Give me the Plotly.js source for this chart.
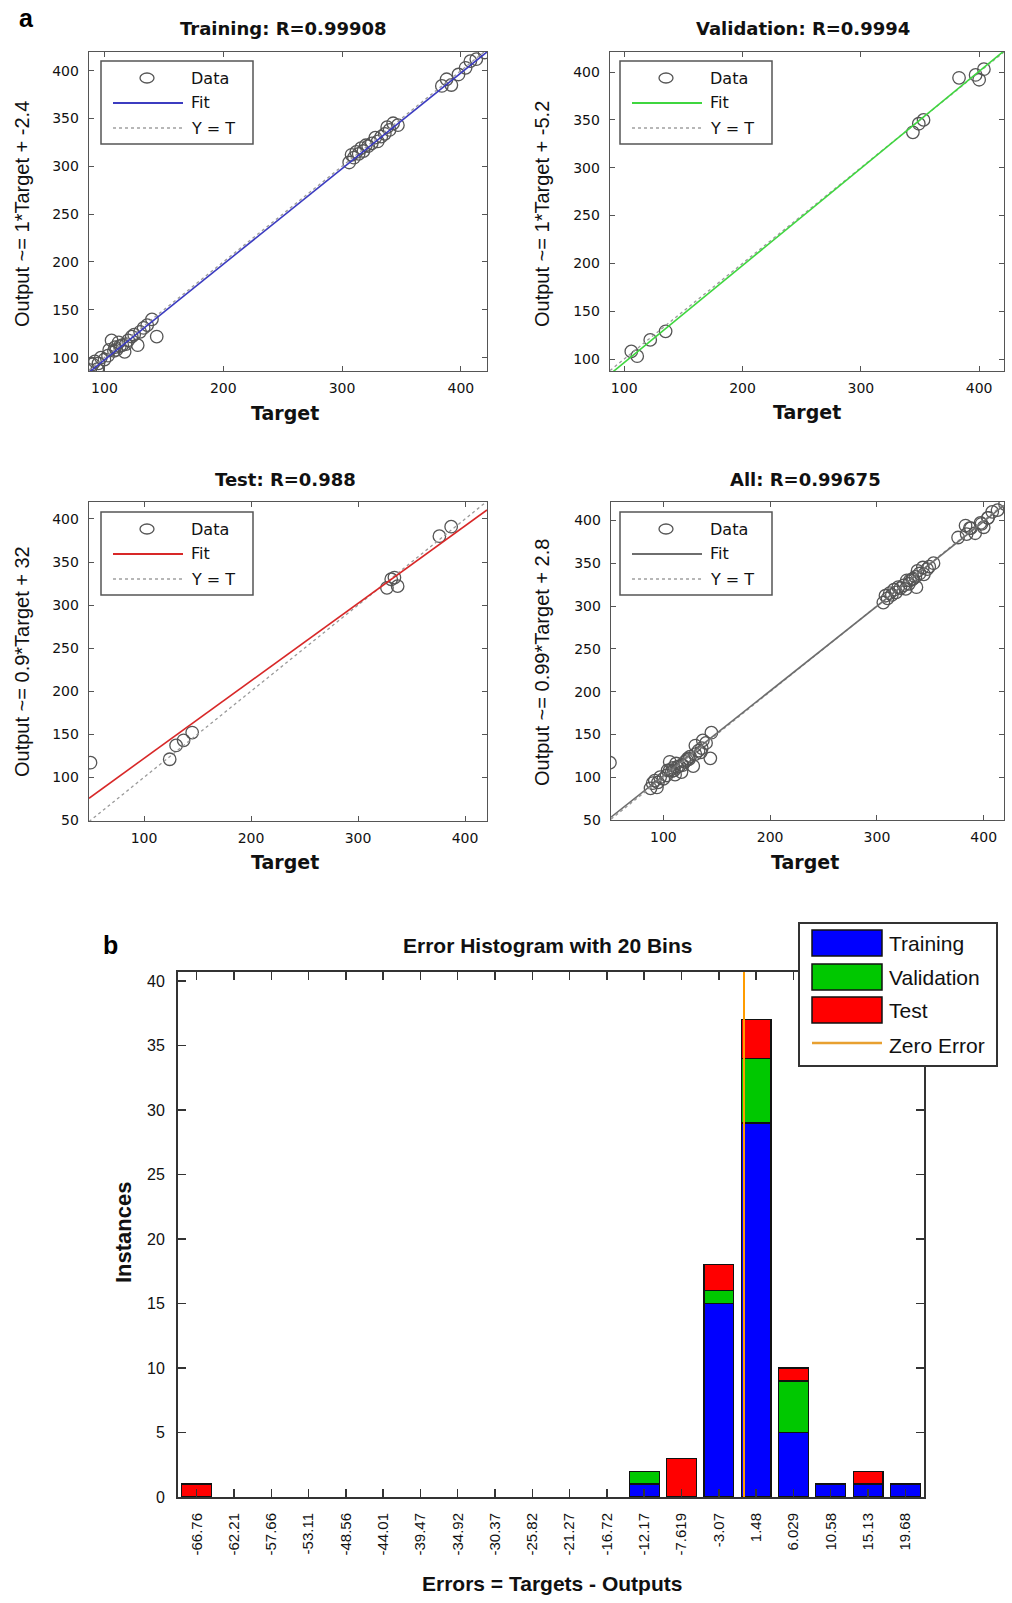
<!DOCTYPE html>
<html><head><meta charset="utf-8">
<script src="https://cdn.plot.ly/plotly-3.0.1.min.js"></script>
<style>html,body{margin:0;padding:0;background:#fff}#chart{width:1012px;height:1603px}</style>
</head><body><div id="chart"></div>
<script>
// ---------- data ----------
const trainTarget = [88,90,92,94,95,97,100,103,104,106,108,109,110,112,113,115,117,118,120,123,125,128,130,133,136,140,144,
  306,308,310,312,314,316,318,320,322,325,328,330,333,336,338,340,343,347,
  384,388,392,398,404,408,413,420];
const trainOutput = [87,93,96,88,94,100,98,102,108,118,107,111,108,116,112,113,106,114,118,122,124,113,127,131,134,140,122,
  304,312,309,315,313,319,316,322,321,324,330,326,331,334,341,338,345,343,
  384,391,385,396,403,410,412,419];
const valTarget = [106,111,122,135,344,349,353,383,397,400,404];
const valOutput = [108,103,120,129,337,346,350,394,397,392,403];
const testTarget = [50,124,130,137,145,327,331,334,337,376,387];
const testOutput = [117,121,137,143,152,320,330,332,322,380,391];

const panelTitles = ['Training: R=0.99908','Validation: R=0.9994','Test: R=0.988','All: R=0.99675'];
const fitLabels = ['Output ~= 1*Target + -2.4','Output ~= 1*Target + -5.2','Output ~= 0.9*Target + 32','Output ~= 0.99*Target + 2.8'];
const fitSlope = [1.0, 1.015, 0.9, 0.99];
const fitIntercept = [-2.4, -5.2, 32, 2.8];

const binLabels = ['-66.76','-62.21','-57.66','-53.11','-48.56','-44.01','-39.47','-34.92','-30.37','-25.82','-21.27','-16.72','-12.17','-7.619','-3.07','1.48','6.029','10.58','15.13','19.68'];
const trainCounts = [0,0,0,0,0,0,0,0,0,0,0,0,1,0,15,29,5,1,1,1];
const valCounts   = [0,0,0,0,0,0,0,0,0,0,0,0,1,0,1,5,4,0,0,0];
const testCounts  = [1,0,0,0,0,0,0,0,0,0,0,0,0,3,2,3,1,0,1,0];
const seriesNames = ['Training','Validation','Test'];

// ---------- styling ----------
const W = 1012, H = 1603;
const X = v => v / W, Y = v => 1 - v / H;
const fitColors = ['#3c3cc0','#3fd63f','#d82828','#6e6e6e'];
const histColors = ['#0000ff','#00c800','#ff0000'];
const zeroColor = '#ff9c00';
const SF = 'DejaVu Sans', AF = 'Liberation Sans';

const allTarget = trainTarget.concat(valTarget, testTarget);
const allOutput = trainOutput.concat(valOutput, testOutput);
const sets = [[trainTarget,trainOutput],[valTarget,valOutput],[testTarget,testOutput],[allTarget,allOutput]];

const panels = [
  {box:[89,487,52,371],  xr:[87,422], yr:[86,419.5], title:[283,28], xt:[285,413], yt:[22,214], leg:[101,61]},
  {box:[610,1004,52,371],xr:[88,421], yr:[87.5,421], title:[803,28], xt:[807,412], yt:[542,214], leg:[620,61]},
  {box:[89,487,502,821], xr:[48.6,420.5], yr:[49.3,419.7], title:[285,479], xt:[285,862], yt:[22,662], leg:[101,512]},
  {box:[611,1004,502,820],xr:[51,419], yr:[50,421.5], title:[805,479], xt:[805,862], yt:[542,663], leg:[620,512]}
];

const traces = [];
const layout = {
  width: W, height: H, autosize: false,
  margin: {l:0, r:0, t:0, b:0},
  paper_bgcolor: '#fff', plot_bgcolor: '#fff',
  showlegend: false, barmode: 'stack', bargap: 0.2,
  shapes: [], annotations: []
};

function axisBase(extra) {
  return Object.assign({
    showline: true, linecolor: '#555', linewidth: 1.3, mirror: 'ticks',
    ticks: 'inside', ticklen: 5, tickwidth: 1, tickcolor: '#555',
    showgrid: false, zeroline: false, fixedrange: true,
    tickfont: {family: SF, size: 14, color: '#111'}
  }, extra);
}

panels.forEach((p, i) => {
  const n = i + 1;
  const xa = 'x' + (n === 1 ? '' : n), ya = 'y' + (n === 1 ? '' : n);
  layout['xaxis' + (n === 1 ? '' : n)] = axisBase({
    domain: [X(p.box[0]), X(p.box[1])], range: p.xr, anchor: ya,
    tick0: 0, dtick: 100, ticklabelstandoff: 4
  });
  layout['yaxis' + (n === 1 ? '' : n)] = axisBase({
    domain: [Y(p.box[3]), Y(p.box[2])], range: p.yr, anchor: xa,
    tick0: 0, dtick: 50, ticklabelstandoff: 6
  });
  const [t, o] = sets[i];
  traces.push({type:'scatter', mode:'markers', x:t, y:o, xaxis:xa, yaxis:ya,
    marker:{symbol:'circle-open', size:12.5, color:'#555', line:{width:1.3}}, hoverinfo:'skip'});
  const xs = [p.xr[0], p.xr[1]];
  traces.push({type:'scatter', mode:'lines', x:xs, y:xs, xaxis:xa, yaxis:ya,
    line:{color:'#9a9a9a', width:1.3, dash:'dot'}, hoverinfo:'skip'});
  traces.push({type:'scatter', mode:'lines', x:xs, y:xs.map(v => fitSlope[i]*v + fitIntercept[i]), xaxis:xa, yaxis:ya,
    line:{color:fitColors[i], width:1.6}, hoverinfo:'skip'});

  // titles
  layout.annotations.push({xref:'paper', yref:'paper', x:X(p.title[0]), y:Y(p.title[1]), xanchor:'center', yanchor:'middle',
    text:'<b>' + panelTitles[i] + '</b>', showarrow:false, font:{family:SF, size:18, color:'#111'}});
  layout.annotations.push({xref:'paper', yref:'paper', x:X(p.xt[0]), y:Y(p.xt[1]), xanchor:'center', yanchor:'middle',
    text:'<b>Target</b>', showarrow:false, font:{family:SF, size:19, color:'#111'}});
  layout.annotations.push({xref:'paper', yref:'paper', x:X(p.yt[0]), y:Y(p.yt[1]), xanchor:'center', yanchor:'middle',
    text:fitLabels[i], textangle:-90, showarrow:false, font:{family:AF, size:20, color:'#111'}});

  // legend box
  const [lx, ly] = p.leg;
  layout.shapes.push({type:'rect', xref:'paper', yref:'paper', x0:X(lx), x1:X(lx+152), y0:Y(ly+83), y1:Y(ly),
    line:{color:'#555', width:1.5}, fillcolor:'#fff', layer:'above'});
  layout.shapes.push({type:'circle', xref:'paper', yref:'paper', x0:X(lx+39), x1:X(lx+53), y0:Y(ly+22), y1:Y(ly+12),
    line:{color:'#555', width:1.3}, layer:'above'});
  layout.shapes.push({type:'line', xref:'paper', yref:'paper', x0:X(lx+12), x1:X(lx+82), y0:Y(ly+42), y1:Y(ly+42),
    line:{color:fitColors[i], width:1.8}, layer:'above'});
  layout.shapes.push({type:'line', xref:'paper', yref:'paper', x0:X(lx+12), x1:X(lx+82), y0:Y(ly+67), y1:Y(ly+67),
    line:{color:'#a0a0a0', width:1.3, dash:'dot'}, layer:'above'});
  [['Data',17],['Fit',42],['Y = T',67]].forEach(([txt, dy]) => {
    layout.annotations.push({xref:'paper', yref:'paper', x:X(lx+88), y:Y(ly+dy), xanchor:'left', yanchor:'middle',
      text:txt, showarrow:false, font:{family:SF, size:16, color:'#111'}});
  });
});

// ---------- histogram ----------
const binCenters = binLabels.map(Number);
const binW = (binCenters[19] - binCenters[0]) / 19;
const hBox = [178, 924, 972, 1497];
const hYmax = 40.7;
layout.xaxis5 = axisBase({
  domain:[X(hBox[0]), X(hBox[1])], range:[binCenters[0]-binW/2, binCenters[19]+binW/2], anchor:'y5',
  tickmode:'array', tickvals:binCenters, ticktext:binLabels, tickangle:-90,
  linecolor:'#333', linewidth:2, ticklen:8, tickwidth:1.5, tickcolor:'#333',
  tickfont:{family:AF, size:15, color:'#111'}, ticklabelstandoff: 8
});
layout.yaxis5 = axisBase({
  domain:[Y(hBox[3]), Y(hBox[2])], range:[0, hYmax], anchor:'x5',
  tick0:0, dtick:5, linecolor:'#333', linewidth:2, ticklen:8, tickwidth:1.5, tickcolor:'#333',
  tickfont:{family:AF, size:16, color:'#111'}, ticklabelstandoff: 8
});
[trainCounts, valCounts, testCounts].forEach((c, k) => {
  traces.push({type:'bar', x:binCenters, y:c.map(v => v === 0 ? null : v), xaxis:'x5', yaxis:'y5', name:seriesNames[k],
    marker:{color:histColors[k], line:{color:'#111', width:1.2}}, hoverinfo:'skip'});
});
traces.push({type:'scatter', mode:'lines', x:[0,0], y:[0,hYmax], xaxis:'x5', yaxis:'y5',
  line:{color:zeroColor, width:2}, hoverinfo:'skip'});

layout.annotations.push({xref:'paper', yref:'paper', x:X(547), y:Y(945), xanchor:'center', yanchor:'middle',
  text:'<b>Error Histogram with 20 Bins</b>', showarrow:false, font:{family:AF, size:21, color:'#111'}});
layout.annotations.push({xref:'paper', yref:'paper', x:X(552), y:Y(1583), xanchor:'center', yanchor:'middle',
  text:'<b>Errors = Targets - Outputs</b>', showarrow:false, font:{family:AF, size:21, color:'#111'}});
layout.annotations.push({xref:'paper', yref:'paper', x:X(123), y:Y(1232), xanchor:'center', yanchor:'middle',
  text:'<b>Instances</b>', textangle:-90, showarrow:false, font:{family:AF, size:22, color:'#111'}});
layout.annotations.push({xref:'paper', yref:'paper', x:X(26), y:Y(18), xanchor:'center', yanchor:'middle',
  text:'<b>a</b>', showarrow:false, font:{family:AF, size:25, color:'#000'}});
layout.annotations.push({xref:'paper', yref:'paper', x:X(110), y:Y(945), xanchor:'center', yanchor:'middle',
  text:'<b>b</b>', showarrow:false, font:{family:AF, size:25, color:'#000'}});

// histogram legend
layout.shapes.push({type:'rect', xref:'paper', yref:'paper', x0:X(799), x1:X(997), y0:Y(1066), y1:Y(923),
  line:{color:'#333', width:2}, fillcolor:'#fff', layer:'above'});
const hLegY = [943, 977, 1010];
seriesNames.forEach((nm, k) => {
  layout.shapes.push({type:'rect', xref:'paper', yref:'paper', x0:X(812), x1:X(882), y0:Y(hLegY[k]+13), y1:Y(hLegY[k]-13),
    line:{color:'#111', width:1.5}, fillcolor:histColors[k], layer:'above'});
  layout.annotations.push({xref:'paper', yref:'paper', x:X(887), y:Y(hLegY[k]), xanchor:'left', yanchor:'middle',
    text:nm, showarrow:false, font:{family:AF, size:21, color:'#111'}});
});
layout.shapes.push({type:'line', xref:'paper', yref:'paper', x0:X(812), x1:X(882), y0:Y(1043), y1:Y(1043),
  line:{color:'#e8a030', width:2.5}, layer:'above'});
layout.annotations.push({xref:'paper', yref:'paper', x:X(887), y:Y(1045), xanchor:'left', yanchor:'middle',
  text:'Zero Error', showarrow:false, font:{family:AF, size:21, color:'#111'}});

Plotly.newPlot('chart', traces, layout, {staticPlot:true, displayModeBar:false});
</script>
</body></html>
